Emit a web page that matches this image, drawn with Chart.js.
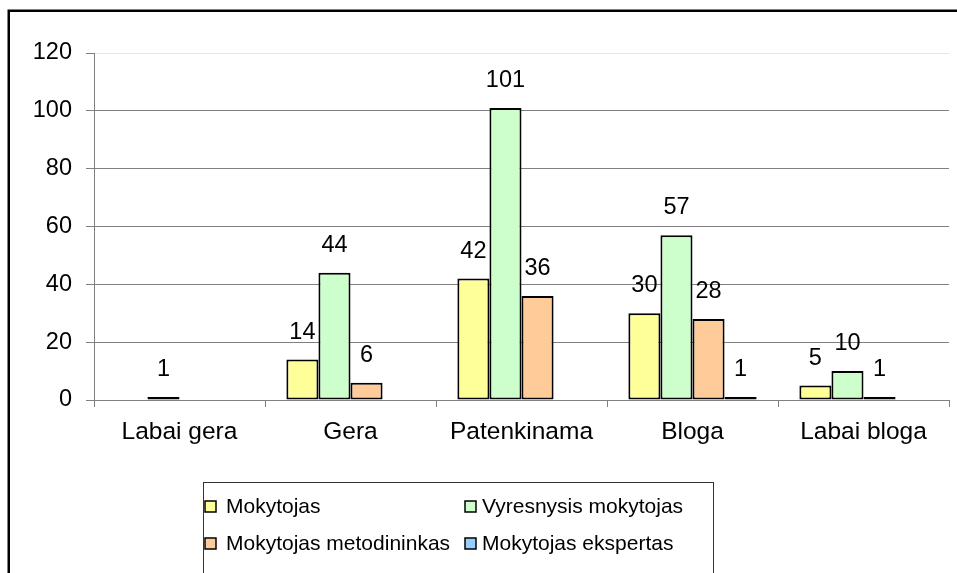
<!DOCTYPE html>
<html>
<head>
<meta charset="utf-8">
<script src="https://cdn.jsdelivr.net/npm/chart.js@4/dist/chart.umd.min.js"></script>
<style>
  html, body { margin: 0; padding: 0; background: #fff; }
  #wrap { width: 957px; height: 573px; position: relative; }
</style>
</head>
<body>
<div id="wrap"><canvas id="c" width="957" height="573"></canvas></div>
<script>
const categories = ['Labai gera', 'Gera', 'Patenkinama', 'Bloga', 'Labai bloga'];
const seriesNames = ['Mokytojas', 'Vyresnysis mokytojas', 'Mokytojas metodininkas', 'Mokytojas ekspertas'];
const mokytojas = [null, 14, 42, 30, 5];
const vyresnysis = [1, 44, 101, 57, 10];
const metodininkas = [null, 6, 36, 28, 1];
const ekspertas = [null, null, null, 1, null];
const yTicks = [0, 20, 40, 60, 80, 100, 120];

const colors = ['#FFFF99', '#CCFFCC', '#FFCC99', '#99CCFF'];
const FONT = "'Liberation Sans', Arial, sans-serif";

const frame = {
  id: 'frame',
  beforeDraw(chart) {
    const ctx = chart.ctx;
    ctx.save();
    ctx.fillStyle = '#fff';
    ctx.fillRect(0, 0, chart.width, chart.height);
    ctx.restore();
  },
  afterDraw(chart) {
    const ctx = chart.ctx;
    ctx.save();
    ctx.strokeStyle = '#000';
    ctx.lineWidth = 2.5;
    ctx.strokeRect(8.75, 10.75, 2000, 2000);
    ctx.restore();
  }
};

const valueLabels = {
  id: 'valueLabels',
  afterDatasetsDraw(chart) {
    const ctx = chart.ctx;
    ctx.save();
    ctx.font = '23.5px ' + FONT;
    ctx.fillStyle = '#000';
    ctx.textAlign = 'center';
    ctx.textBaseline = 'alphabetic';
    chart.data.datasets.forEach((ds, i) => {
      const meta = chart.getDatasetMeta(i);
      meta.data.forEach((el, j) => {
        const v = ds.data[j];
        if (v === null || v === undefined) return;
        ctx.fillText(String(v), el.x, el.y - 21);
      });
    });
    ctx.restore();
  }
};

const boxLegend = {
  id: 'boxLegend',
  afterDraw(chart) {
    const ctx = chart.ctx;
    ctx.save();
    ctx.strokeStyle = '#333';
    ctx.lineWidth = 1;
    ctx.strokeRect(203.5, 482.5, 510, 200);
    ctx.font = '21px ' + FONT;
    ctx.textBaseline = 'alphabetic';
    ctx.textAlign = 'left';
    const cols = [205, 465];
    const textX = [226, 482];
    const rows = [513, 550];
    chart.data.datasets.forEach((ds, i) => {
      const x = cols[i % 2];
      const y = rows[Math.floor(i / 2)];
      ctx.fillStyle = ds.backgroundColor;
      ctx.fillRect(x, y - 12, 11, 11);
      ctx.strokeStyle = '#000';
      ctx.lineWidth = 1.5;
      ctx.strokeRect(x, y - 12, 11, 11);
      ctx.fillStyle = '#000';
      ctx.fillText(ds.label, textX[i % 2], y);
    });
    ctx.restore();
  }
};

const seriesData = [mokytojas, vyresnysis, metodininkas, ekspertas];

new Chart(document.getElementById('c'), {
  type: 'bar',
  data: {
    labels: categories,
    datasets: seriesData.map((d, i) => ({
      label: seriesNames[i],
      data: d,
      backgroundColor: colors[i],
      borderColor: '#000',
      borderWidth: 2,
      borderSkipped: false,
      categoryPercentage: 0.75,
      barPercentage: 1.0
    }))
  },
  options: {
    responsive: false,
    animation: false,
    devicePixelRatio: 1,
    layout: { padding: { top: 53, right: 8, bottom: 0, left: 0 } },
    plugins: {
      legend: { display: false },
      tooltip: { enabled: false }
    },
    scales: {
      x: {
        offset: true,
        grid: {
          offset: true,
          drawOnChartArea: false,
          drawTicks: true,
          tickLength: 7,
          tickColor: '#808080'
        },
        border: { display: true, color: '#808080', width: 1 },
        ticks: {
          color: '#000',
          font: { family: FONT, size: 24.5 },
          padding: 11,
          maxRotation: 0,
          autoSkip: false
        },
        afterFit(scale) { scale.height = 173; }
      },
      y: {
        min: 0,
        max: 120,
        afterBuildTicks(scale) { scale.ticks = yTicks.map(v => ({ value: v })); },
        grid: {
          color: (c) => (c.tick && c.tick.value === 120 ? '#e6e6e6' : '#808080'),
          tickColor: '#808080',
          tickLength: 8,
          lineWidth: 1
        },
        border: { display: true, color: '#808080', width: 1 },
        ticks: {
          color: '#000',
          font: { family: FONT, size: 23.5 },
          padding: 14
        },
        afterFit(scale) { scale.width = 94; }
      }
    }
  },
  plugins: [frame, valueLabels, boxLegend]
});
</script>
</body>
</html>
